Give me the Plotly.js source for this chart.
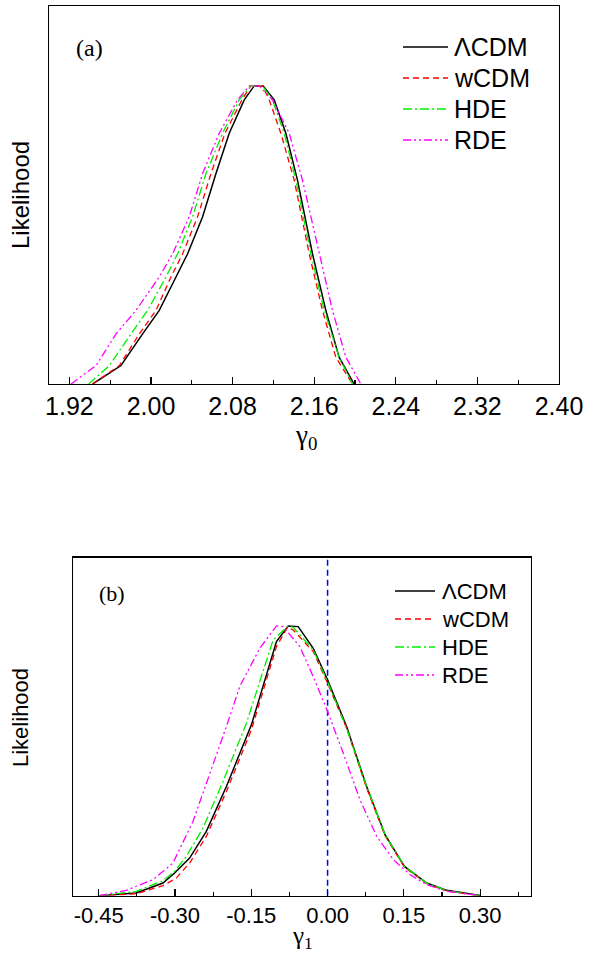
<!DOCTYPE html>
<html><head><meta charset="utf-8">
<script src="https://cdn.plot.ly/plotly-3.0.1.min.js"></script>
<style>html,body{margin:0;padding:0;background:#fff}#chart{width:597px;height:954px}</style>
</head><body><div id="chart"></div>
<script>
// ---------- data: panel (a), gamma_0 ----------
const seriesNames = ['\u039BCDM', 'wCDM', 'HDE', 'RDE'];

const g0_LCDM_x = [1.9428, 1.9706, 1.9918, 2.0081, 2.0245, 2.0359, 2.0506, 2.0637, 2.0767, 2.0914, 2.1012, 2.1100, 2.1208, 2.1322, 2.1436, 2.1583, 2.1714, 2.1844, 2.1991];
const g0_LCDM_y = [0, 0.062, 0.168, 0.247, 0.359, 0.437, 0.561, 0.706, 0.841, 0.953, 1.0, 1.0, 0.953, 0.841, 0.684, 0.437, 0.247, 0.090, 0];

const g0_wCDM_x = [1.9428, 1.9690, 1.9886, 2.0049, 2.0196, 2.0310, 2.0457, 2.0588, 2.0725, 2.0891, 2.0979, 2.1093, 2.1159, 2.1273, 2.1404, 2.1551, 2.1681, 2.1812, 2.1975];
const g0_wCDM_y = [0, 0.062, 0.168, 0.247, 0.359, 0.437, 0.561, 0.706, 0.841, 0.953, 1.0, 1.0, 0.953, 0.841, 0.684, 0.437, 0.247, 0.090, 0];

const g0_HDE_x = [1.9389, 1.9592, 1.9804, 1.9967, 2.0147, 2.0261, 2.0408, 2.0539, 2.0702, 2.0865, 2.0979, 2.1093, 2.1191, 2.1306, 2.1420, 2.1567, 2.1698, 2.1844, 2.1975];
const g0_HDE_y = [0, 0.062, 0.168, 0.247, 0.359, 0.437, 0.561, 0.706, 0.841, 0.953, 1.0, 1.0, 0.953, 0.841, 0.684, 0.437, 0.247, 0.090, 0];

const g0_RDE_x = [1.9216, 1.9461, 1.9657, 1.9853, 2.0081, 2.0212, 2.0375, 2.0506, 2.0669, 2.0848, 2.0963, 2.1061, 2.1191, 2.1355, 2.1485, 2.1649, 2.1779, 2.1910, 2.2057];
const g0_RDE_y = [0, 0.062, 0.168, 0.247, 0.359, 0.437, 0.561, 0.706, 0.841, 0.953, 1.0, 1.0, 0.953, 0.841, 0.684, 0.437, 0.247, 0.090, 0];

// ---------- data: panel (b), gamma_1 ----------
const g1_LCDM_x = [-0.4486, -0.3764, -0.3238, -0.3008, -0.2713, -0.2384, -0.1990, -0.1498, -0.1005, -0.0775, -0.0578, -0.0282, 0.0000, 0.0374, 0.0768, 0.1130, 0.1511, 0.1951, 0.2345, 0.3002];
const g1_LCDM_y = [0, 0.0099, 0.0469, 0.0840, 0.1395, 0.2383, 0.4049, 0.6333, 0.9420, 1.0, 0.9975, 0.9173, 0.8000, 0.6272, 0.4049, 0.2259, 0.1086, 0.0469, 0.0198, 0.001];

const g1_wCDM_x = [-0.4486, -0.3764, -0.3238, -0.2975, -0.2713, -0.2384, -0.1990, -0.1498, -0.1005, -0.0788, -0.0677, -0.0282, 0.0000, 0.0374, 0.0768, 0.1130, 0.1511, 0.1951, 0.2345, 0.3002];
const g1_wCDM_y = [0, 0.0074, 0.0370, 0.0654, 0.1210, 0.2198, 0.3864, 0.6148, 0.9235, 0.9951, 0.9852, 0.9049, 0.7877, 0.6210, 0.3988, 0.2222, 0.1062, 0.0444, 0.0173, 0];

const g1_HDE_x = [-0.4486, -0.3764, -0.3238, -0.3008, -0.2778, -0.2450, -0.2056, -0.1596, -0.1071, -0.0775, -0.0677, -0.0282, 0.0000, 0.0374, 0.0768, 0.1130, 0.1511, 0.1951, 0.2345, 0.3002];
const g1_HDE_y = [0, 0.0160, 0.0556, 0.0901, 0.1457, 0.2506, 0.4235, 0.6395, 0.9481, 1.0, 0.9951, 0.9111, 0.7938, 0.6210, 0.4049, 0.2259, 0.1086, 0.0469, 0.0185, 0];

const g1_RDE_x = [-0.4486, -0.3961, -0.3435, -0.3041, -0.2647, -0.2319, -0.1990, -0.1727, -0.1333, -0.1005, -0.0874, -0.0545, -0.0282, 0.0000, 0.0309, 0.0637, 0.0966, 0.1294, 0.1622, 0.1951, 0.2345, 0.3002];
const g1_RDE_y = [0, 0.0198, 0.0593, 0.1210, 0.2753, 0.4481, 0.6272, 0.7753, 0.9173, 1.0, 0.9975, 0.9235, 0.8123, 0.6827, 0.5284, 0.3556, 0.2198, 0.1333, 0.0778, 0.0407, 0.0160, 0];

// reference line gamma_1 = 0
const g1_ref_x = [0, 0];
const g1_ref_y = [0, 1.253];

// tick labels
const g0_tickvals = [1.92, 2.00, 2.08, 2.16, 2.24, 2.32, 2.40];
const g0_ticktext = ['1.92', '2.00', '2.08', '2.16', '2.24', '2.32', '2.40'];
const g0_minorvals = [1.96, 2.04, 2.12, 2.20, 2.28, 2.36];
const g1_tickvals = [-0.45, -0.30, -0.15, 0.00, 0.15, 0.30];
const g1_ticktext = ['-0.45', '-0.30', '-0.15', '0.00', '0.15', '0.30'];
const g1_minorvals = [-0.375, -0.225, -0.075, 0.075, 0.225, 0.375];

// ---------- styling ----------
const W = 597, H = 954;
const px = v => v / W, py = v => 1 - v / H;
const styles = [
  {color: '#000000', dash: 'solid', width: 1.5},
  {color: '#ff0000', dash: '6px,4px', width: 1.3},
  {color: '#00ee00', dash: '9px,3px,2px,3px', width: 1.3},
  {color: '#ff00ff', dash: '8px,3px,2px,3px,2px,3px', width: 1.3}
];
const g0 = [[g0_LCDM_x, g0_LCDM_y], [g0_wCDM_x, g0_wCDM_y], [g0_HDE_x, g0_HDE_y], [g0_RDE_x, g0_RDE_y]];
const g1 = [[g1_LCDM_x, g1_LCDM_y], [g1_wCDM_x, g1_wCDM_y], [g1_HDE_x, g1_HDE_y], [g1_RDE_x, g1_RDE_y]];

const traces = [];
g0.forEach((d, i) => traces.push({
  x: d[0], y: d[1], name: seriesNames[i], type: 'scatter', mode: 'lines',
  xaxis: 'x', yaxis: 'y', showlegend: false,
  line: {color: styles[i].color, dash: styles[i].dash, width: styles[i].width}
}));
traces.push({
  x: g1_ref_x, y: g1_ref_y, type: 'scatter', mode: 'lines', showlegend: false,
  xaxis: 'x2', yaxis: 'y2', line: {color: '#0000ff', dash: '6px,4px', width: 1.5}
});
g1.forEach((d, i) => traces.push({
  x: d[0], y: d[1], name: seriesNames[i], type: 'scatter', mode: 'lines',
  xaxis: 'x2', yaxis: 'y2', showlegend: false,
  line: {color: styles[i].color, dash: styles[i].dash, width: styles[i].width}
}));

const sans = 'Liberation Sans, Arial, sans-serif';
const serif = 'Liberation Serif, Times New Roman, serif';

const xBase = {
  showgrid: false, zeroline: false, showline: true, linecolor: '#000', linewidth: 1.3, mirror: true,
  ticks: 'inside', ticklen: 7, tickwidth: 1.2, tickcolor: '#000', tickmode: 'array',
  ticklabelstandoff: 0
};
const yBase = {
  showgrid: false, zeroline: false, showline: true, linecolor: '#000', linewidth: 1.3, mirror: true,
  ticks: '', showticklabels: false, fixedrange: true
};

const annotations = [
  {text: '(a)', x: px(90), y: py(48), font: {family: serif, size: 24, color: '#000'}},
  {text: '(b)', x: px(112), y: py(593), font: {family: serif, size: 22, color: '#000'}},
  {text: 'Likelihood', x: px(20), y: py(195), textangle: -90, font: {family: sans, size: 24, color: '#000'}},
  {text: 'Likelihood', x: px(20), y: py(718), textangle: -90, font: {family: sans, size: 22, color: '#000'}},
  {text: '\u03B3<sub>0</sub>', x: px(306), y: py(437), font: {family: serif, size: 27, color: '#000'}},
  {text: '\u03B3<sub>1</sub>', x: px(302), y: py(937), font: {family: serif, size: 25, color: '#000'}}
].map(a => Object.assign({xref: 'paper', yref: 'paper', showarrow: false, xanchor: 'center', yanchor: 'middle'}, a));

// manual legends (sample line + label) for both panels
const shapes = [];
const legendBoxes = [
  {x0: 403, x1: 448, tx: 452, ys: [47, 78, 109, 140], size: 25},
  {x0: 395, x1: 435, tx: 440, ys: [591, 619, 647, 675], size: 22}
];
legendBoxes.forEach(lb => {
  seriesNames.forEach((name, i) => {
    shapes.push({type: 'line', xref: 'paper', yref: 'paper',
      x0: px(lb.x0), x1: px(lb.x1), y0: py(lb.ys[i]), y1: py(lb.ys[i]),
      line: {color: styles[i].color, dash: styles[i].dash, width: styles[i].width}});
    annotations.push({text: name, xref: 'paper', yref: 'paper', showarrow: false,
      x: px(lb.tx), y: py(lb.ys[i]), xanchor: 'left', yanchor: 'middle',
      font: {family: sans, size: lb.size, color: '#000'}});
  });
});

const layout = {
  width: W, height: H, margin: {l: 0, r: 0, t: 0, b: 0},
  paper_bgcolor: '#fff', plot_bgcolor: '#fff', showlegend: false,
  xaxis: Object.assign({}, xBase, {
    domain: [px(49), px(559)], range: [1.90, 2.40], anchor: 'y',
    tickvals: g0_tickvals, ticktext: g0_ticktext,
    tickfont: {family: sans, size: 25, color: '#000'},
    minor: {ticks: 'inside', ticklen: 4, tickwidth: 1.2, tickcolor: '#000', tickmode: 'array', tickvals: g0_minorvals}
  }),
  yaxis: Object.assign({}, yBase, {domain: [py(384), py(6)], range: [0, 1.268], anchor: 'x'}),
  xaxis2: Object.assign({}, xBase, {
    domain: [px(73.3), px(531)], range: [-0.5, 0.4], anchor: 'y2',
    tickvals: g1_tickvals, ticktext: g1_ticktext,
    tickfont: {family: sans, size: 22, color: '#000'},
    minor: {ticks: 'inside', ticklen: 4, tickwidth: 1.2, tickcolor: '#000', tickmode: 'array', tickvals: g1_minorvals}
  }),
  yaxis2: Object.assign({}, yBase, {domain: [py(895.7), py(557.7)], range: [0, 1.253], anchor: 'x2'}),
  annotations: annotations,
  shapes: shapes
};

Plotly.newPlot('chart', traces, layout, {staticPlot: true, displayModeBar: false});
</script></body></html>
